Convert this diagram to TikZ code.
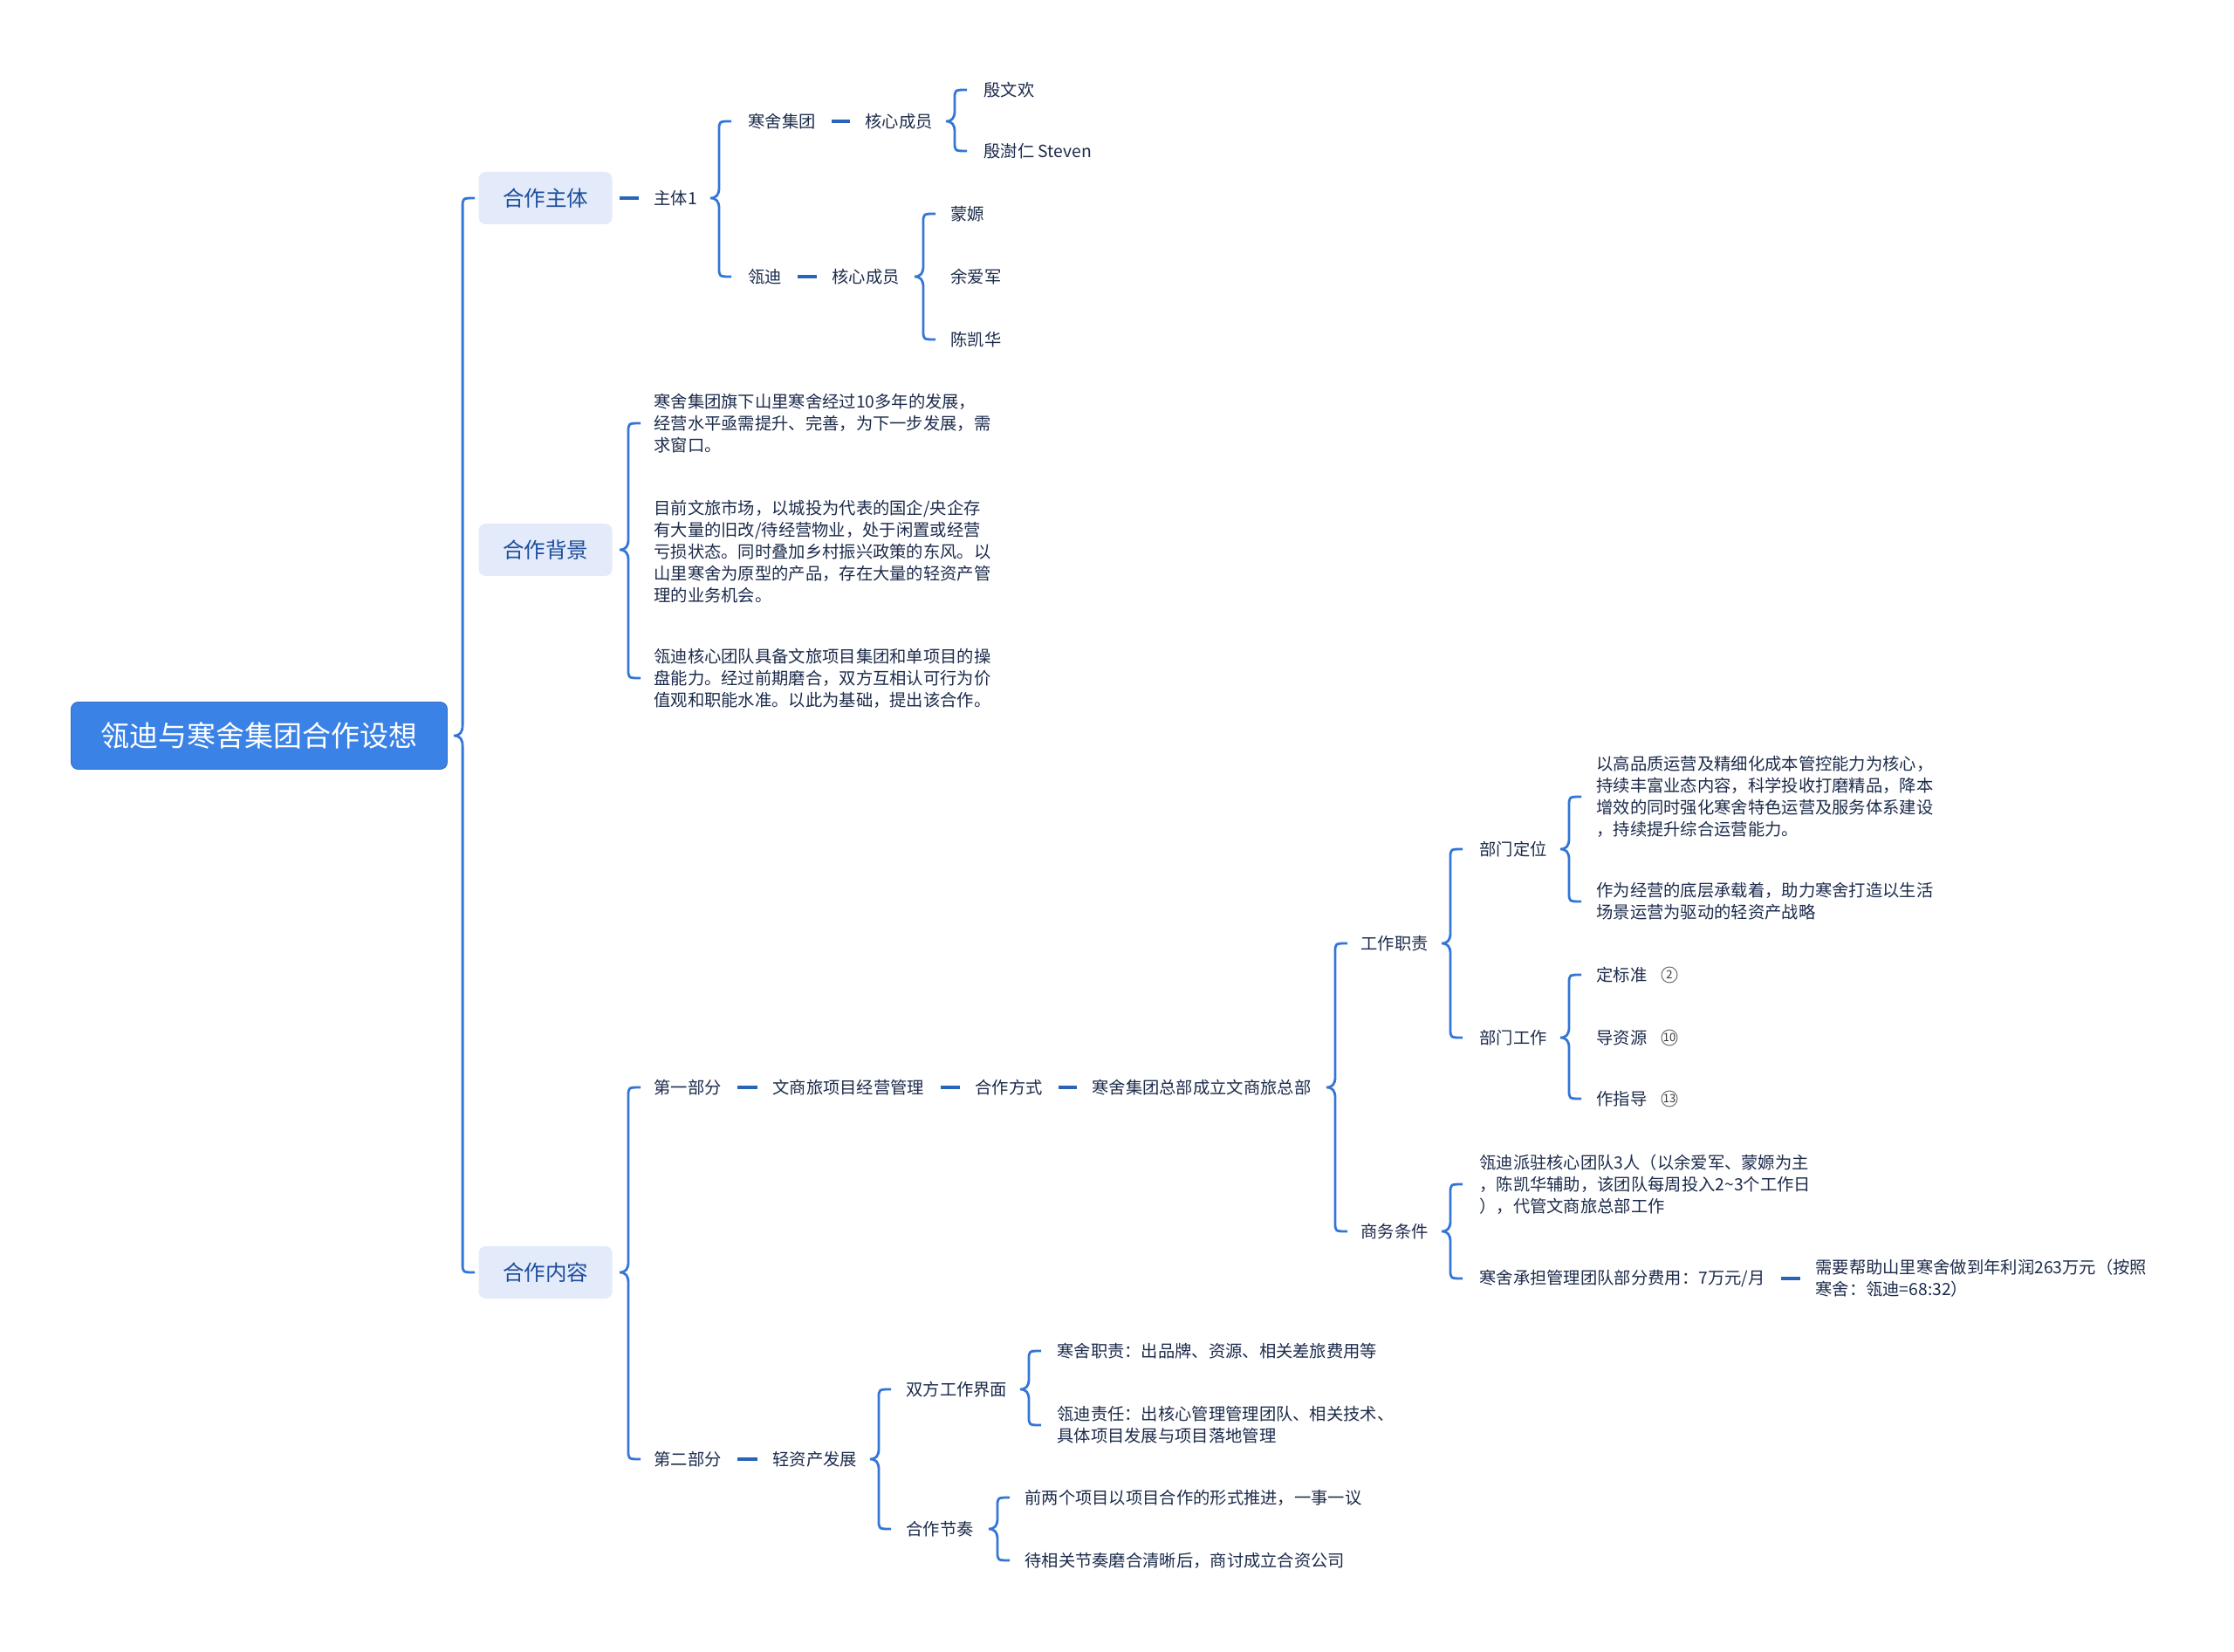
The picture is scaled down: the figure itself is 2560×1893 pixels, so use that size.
\documentclass[tikz,border=0pt]{standalone}
\usepackage{fontspec}
\setmainfont{Noto Sans CJK SC}
\usetikzlibrary{calc}
\definecolor{rootblue}{HTML}{3B82E6}
\definecolor{topicfill}{HTML}{E3EBFB}
\definecolor{topictext}{HTML}{1F4E9C}
\definecolor{linkblue}{HTML}{3476D6}
\definecolor{dashblue}{HTML}{2A64B8}
\definecolor{txtnavy}{HTML}{1C2B4B}
\tikzset{
  rootbox/.style={fill=rootblue,draw=rootblue!85!black,line width=0.4pt,rounded corners=4pt,text=white,
    minimum width=215.5pt,minimum height=38.5pt,font=\fontsize{16.5}{18}\selectfont},
  topic/.style={fill=topicfill,rounded corners=4pt,text=topictext,
    minimum width=76.5pt,minimum height=30pt,font=\fontsize{12.25}{14}\selectfont},
  txt/.style={anchor=west,inner sep=0pt,text=txtnavy,align=left,font=\fontsize{9.65}{12.5}\selectfont},
  numcirc/.style={circle,draw=gray!85!black,text=gray!40!black,inner sep=0pt,minimum size=9pt,
    line width=0.5pt,font=\fontsize{6.5}{7}\selectfont},
  brcline/.style={draw=linkblue,line width=1.4pt},
  dsh/.style={draw=dashblue,line width=1.7pt,shorten <=9pt,shorten >=8.5pt}
}
% curly bracket from a parent to its first and last child
\newcommand{\brc}[4][15.5pt]{%
  \draw[brcline] let \p1=(#2.east), \p2=(#3.west), \p3=(#4.west) in
    (\x2-#1+7pt,\y2) .. controls (\x2-#1,\y2) .. (\x2-#1,\y2-5pt)
    -- (\x2-#1,\y1+6pt) .. controls (\x2-#1,\y1+2pt) and (\x2-#1-1.5pt,\y1) .. (\x2-#1-5pt,\y1)
    .. controls (\x2-#1-1.5pt,\y1) and (\x2-#1,\y1-2pt) .. (\x2-#1,\y1-6pt)
    -- (\x2-#1,\y3+5pt) .. controls (\x2-#1,\y3) .. (\x2-#1+7pt,\y3);}
\begin{document}
\begin{tikzpicture}[x=0.5pt,y=-0.5pt]
  \useasboundingbox (0,0) rectangle (2560,1893);
  % root and main topics
  \node[rootbox] (root) at (297,843) {瓴迪与寒舍集团合作设想};
  \node[topic] (t1) at (625,227) {合作主体};
  \node[topic] (t2) at (625,630) {合作背景};
  \node[topic] (t3) at (625,1458) {合作内容};
  \brc[9pt]{root}{t1}{t3}

  % 合作主体
  \node[txt] (zt) at (749,227) {主体1};
  \node[txt] (hs) at (857,139) {寒舍集团};
  \node[txt] (hsc) at (991,139) {核心成员};
  \node[txt] (y1) at (1127,103) {殷文欢};
  \node[txt] (y2) at (1127,173) {殷澍仁 Steven};
  \node[txt] (ld) at (857,317) {瓴迪};
  \node[txt] (ldc) at (953,317) {核心成员};
  \node[txt] (m1) at (1089,245) {蒙嫄};
  \node[txt] (m2) at (1089,317) {余爱军};
  \node[txt] (m3) at (1089,389) {陈凯华};
  \draw[dsh,shorten <=4pt] (t1.east) -- (zt.west);
  \draw[dsh] (hs.east) -- (hsc.west);
  \draw[dsh] (ld.east) -- (ldc.west);
  \brc[16.5pt]{zt}{hs}{ld}
  \brc[16.5pt]{hsc}{y1}{y2}
  \brc{ldc}{m1}{m3}

  % 合作背景
  \node[txt] (bg1) at (749,485) {寒舍集团旗下山里寒舍经过10多年的发展，\\经营水平亟需提升、完善，为下一步发展，需\\求窗口。};
  \node[txt] (bg2) at (749,632) {目前文旅市场，以城投为代表的国企/央企存\\有大量的旧改/待经营物业，处于闲置或经营\\亏损状态。同时叠加乡村振兴政策的东风。以\\山里寒舍为原型的产品，存在大量的轻资产管\\理的业务机会。};
  \node[txt] (bg3) at (749,777) {瓴迪核心团队具备文旅项目集团和单项目的操\\盘能力。经过前期磨合，双方互相认可行为价\\值观和职能水准。以此为基础，提出该合作。};
  \brc[14.5pt]{t2}{bg1}{bg3}

  % 合作内容: 第一部分
  \node[txt] (p1) at (749,1246) {第一部分};
  \node[txt] (p1a) at (885,1246) {文商旅项目经营管理};
  \node[txt] (p1b) at (1117,1246) {合作方式};
  \node[txt] (p1c) at (1251,1246) {寒舍集团总部成立文商旅总部};
  \draw[dsh] (p1.east) -- (p1a.west);
  \draw[dsh] (p1a.east) -- (p1b.west);
  \draw[dsh] (p1b.east) -- (p1c.west);
  \node[txt] (gz) at (1559,1081) {工作职责};
  \node[txt] (dw) at (1695,973) {部门定位};
  \node[txt] (dw1) at (1829,913) {以高品质运营及精细化成本管控能力为核心，\\持续丰富业态内容，科学投收打磨精品，降本\\增效的同时强化寒舍特色运营及服务体系建设\\，持续提升综合运营能力。};
  \node[txt] (dw2) at (1829,1033) {作为经营的底层承载着，助力寒舍打造以生活\\场景运营为驱动的轻资产战略};
  \node[txt] (gw) at (1695,1189) {部门工作};
  \node[txt] (gw1) at (1829,1117) {定标准};
  \node[txt] (gw2) at (1829,1189) {导资源};
  \node[txt] (gw3) at (1829,1259) {作指导};
  \node[numcirc] (gw1n) at (1913,1117) {2};
  \node[numcirc] (gw2n) at (1913,1189) {10};
  \node[numcirc] (gw3n) at (1913,1259) {13};
  \node[txt] (sw) at (1559,1411) {商务条件};
  \node[txt] (sw1) at (1695,1357) {瓴迪派驻核心团队3人（以余爱军、蒙嫄为主\\，陈凯华辅助，该团队每周投入2\textasciitilde 3个工作日\\），代管文商旅总部工作};
  \node[txt] (sw2) at (1695,1465) {寒舍承担管理团队部分费用：7万元/月};
  \node[txt] (sw3) at (2080,1465) {需要帮助山里寒舍做到年利润263万元（按照\\寒舍：瓴迪=68:32）};
  \draw[dsh] (sw2.east) -- (sw3.west);
  \brc[14.5pt]{p1c}{gz}{sw}
  \brc[16.5pt]{gz}{dw}{gw}
  \brc{dw}{dw1}{dw2}
  \brc{gw}{gw1}{gw3}
  \brc[16.5pt]{sw}{sw1}{sw2}

  % 合作内容: 第二部分
  \node[txt] (p2) at (749,1672) {第二部分};
  \node[txt] (p2a) at (885,1672) {轻资产发展};
  \draw[dsh] (p2.east) -- (p2a.west);
  \node[txt] (sf) at (1038,1592) {双方工作界面};
  \node[txt] (sf1) at (1211,1548) {寒舍职责：出品牌、资源、相关差旅费用等};
  \node[txt] (sf2) at (1211,1633) {瓴迪责任：出核心管理管理团队、相关技术、\\具体项目发展与项目落地管理};
  \node[txt] (jz) at (1038,1752) {合作节奏};
  \node[txt] (jz1) at (1174,1716) {前两个项目以项目合作的形式推进，一事一议};
  \node[txt] (jz2) at (1174,1788) {待相关节奏磨合清晰后，商讨成立合资公司};
  \brc[14.5pt]{t3}{p1}{p2}
  \brc{p2a}{sf}{jz}
  \brc[16pt]{sf}{sf1}{sf2}
  \brc{jz}{jz1}{jz2}
\end{tikzpicture}
\end{document}
